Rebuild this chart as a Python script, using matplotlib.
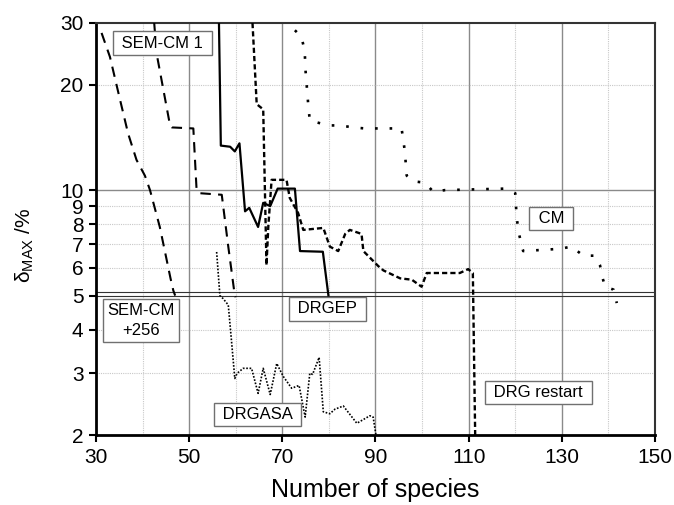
import numpy as np
import matplotlib
matplotlib.use("Agg")
import matplotlib.pyplot as plt
from matplotlib.ticker import FixedLocator, FixedFormatter, NullLocator

plt.rcParams['font.family'] = ['Liberation Sans', 'DejaVu Sans']
plt.rcParams['mathtext.fontset'] = 'custom'
plt.rcParams['mathtext.rm'] = 'Liberation Sans'

# --- DATA ---
sem1_x = [31.2, 33.0, 35.0, 36.9, 38.7, 40.5, 41.6, 43.7, 45.2, 46.0, 46.6, 47.0]
sem1_y = [28.1, 24.0, 18.5, 14.5, 12.2, 11.0, 10.0, 7.85, 6.3, 5.6, 5.17, 5.0]

sem256_x = [42.5, 43.0, 45.9, 46.3, 50.9, 51.6, 52.3, 57.0, 58.4, 59.8, 60.0]
sem256_y = [30.0, 24.6, 15.3, 15.1, 15.0, 10.0, 9.8, 9.7, 6.9, 5.0, 4.95]

drgep_x = [56.4, 56.8, 58.8, 59.8, 60.8, 62.0, 62.9, 64.8, 65.9, 67.4, 69.0, 72.7, 73.8, 78.7, 79.9]
drgep_y = [30.0, 13.4, 13.3, 12.9, 13.6, 8.7, 8.9, 7.85, 9.2, 9.0, 10.1, 10.1, 6.7, 6.67, 5.0]

drgr_x = [63.6, 64.5, 65.9, 66.6, 67.0, 67.7, 70.9, 71.6, 73.4, 74.5, 78.8, 80.2, 82.0,
          83.5, 84.5, 87.0, 87.4, 90.6, 91.7, 95.3, 97.8, 99.9, 101.0, 108.1, 109.9,
          110.9, 111.4]
drgr_y = [30.0, 17.6, 17.0, 6.1, 7.9, 10.7, 10.7, 9.5, 8.6, 7.7, 7.8, 6.9, 6.7,
          7.5, 7.7, 7.5, 6.7, 6.07, 5.9, 5.6, 5.55, 5.3, 5.8, 5.8, 5.95,
          5.8, 2.0]

cm_x = [72.7, 74.1, 74.8, 75.0, 75.6, 75.9, 79.9, 82.4, 85.2, 87.7, 90.2, 95.6, 96.0,
        96.3, 96.7, 98.1, 100.6, 102.4, 104.9, 117.8, 120.0, 120.3, 120.7, 121.7,
        129.6, 132.1, 134.6, 137.1, 138.2, 138.6, 139.3, 141.1, 141.8]
cm_y = [28.6, 27.4, 25.0, 21.8, 17.3, 15.8, 15.3, 15.3, 15.1, 15.0, 15.0, 15.0, 13.8,
        12.9, 11.0, 10.6, 10.5, 9.9, 10.0, 10.1, 9.8, 8.4, 7.6, 6.7,
        6.8, 6.9, 6.5, 6.5, 6.1, 5.7, 5.3, 5.2, 4.76]

drgasa_x = [55.9, 56.6, 57.3, 58.4, 59.1, 59.8, 60.3, 61.6, 63.4, 64.8, 65.9, 67.4, 68.8,
            70.2, 72.0, 73.6, 74.9, 75.9, 76.5, 77.9, 78.8, 80.2, 81.3, 83.1, 86.0,
            88.8, 89.5, 90.1]
drgasa_y = [6.66, 5.0, 4.9, 4.7, 3.7, 2.9, 3.0, 3.1, 3.1, 2.63, 3.1, 2.61, 3.2,
            2.94, 2.72, 2.77, 2.25, 3.0, 2.98, 3.33, 2.33, 2.3, 2.37, 2.42, 2.16,
            2.27, 2.25, 2.0]

labels = ["SEM-CM 1", "SEM-CM\n+256", "DRGEP", "DRGASA", "DRG restart", "CM"]
label_x = [44.2, 39.6, 79.7, 64.6, 125.0, 127.7]
label_y = [26.3, 4.24, 4.58, 2.29, 2.65, 8.3]

x_ticks = [30, 50, 70, 90, 110, 130, 150]
x_minor = [40, 60, 80, 100, 120, 140]
y_ticks = [2, 3, 4, 5, 6, 7, 8, 9, 10, 20, 30]

fig = plt.figure(figsize=(6.74, 5.05), dpi=100)
ax = fig.add_axes([0.1424, 0.1386, 0.8294, 0.8159])
ax.set_yscale('log')
ax.set_xlim(30, 150)
ax.set_ylim(2, 30)

# grid
for xv in x_ticks[1:-1]:
    ax.axvline(xv, color='#8a8a8a', lw=1.0, zorder=1)
for xv in x_minor:
    ax.axvline(xv, color='#c8c8c8', lw=0.8, ls=(0, (1, 1)), zorder=1)
for yv in [3, 4, 6, 7, 8, 9, 20]:
    ax.axhline(yv, color='#c8c8c8', lw=0.8, ls=(0, (1, 1)), zorder=1)
ax.axhline(10, color='#8a8a8a', lw=1.0, zorder=1)
ax.axhline(5.0, color='#333333', lw=0.8, zorder=1)
ax.axhline(5.11, color='#333333', lw=0.8, zorder=1)

# curves
ax.plot(sem1_x, sem1_y, color='black', lw=1.5, dashes=(5, 3.5), zorder=3)
ax.plot(sem256_x, sem256_y, color='black', lw=1.5, dashes=(5, 3.5), zorder=3)
ax.plot(drgep_x, drgep_y, color='black', lw=1.6, zorder=3)
ax.plot(drgr_x, drgr_y, color='black', lw=1.7, dashes=(2.2, 1.3), zorder=3)
ax.plot(cm_x, cm_y, color='black', lw=1.9, dashes=(1, 4.5), zorder=3)
ax.plot(drgasa_x, drgasa_y, color='black', lw=1.2, dashes=(1, 1), zorder=3)

for txt, lx, ly in zip(labels, label_x, label_y):
    shown = txt if "\n" in txt else f" {txt} "
    ax.text(lx, ly, shown, ha='center', va='center', fontsize=12, zorder=4,
            linespacing=1.4,
            bbox=dict(boxstyle='square,pad=0.25', fc='white', ec='#707070', lw=1.0))

# axes styling
ax.xaxis.set_major_locator(FixedLocator(x_ticks))
ax.xaxis.set_minor_locator(NullLocator())
ax.yaxis.set_major_locator(FixedLocator(y_ticks))
ax.yaxis.set_major_formatter(FixedFormatter([str(v) for v in y_ticks]))
ax.yaxis.set_minor_locator(NullLocator())
ax.tick_params(axis='both', which='major', direction='out', length=5, width=1.5,
               labelsize=15, color='black', pad=4)

for side in ['left', 'bottom']:
    ax.spines[side].set_linewidth(2.0)
    ax.spines[side].set_color('black')
for side in ['top', 'right']:
    ax.spines[side].set_linewidth(1.5)
    ax.spines[side].set_color('#333333')

ax.set_xlabel('Number of species', fontsize=18, labelpad=8)
ax.set_ylabel('δ$_{\\mathregular{MAX}}$ /%', fontsize=15)
ax.yaxis.set_label_coords(-0.107, 0.46)

fig.savefig('out.png', dpi=100)
